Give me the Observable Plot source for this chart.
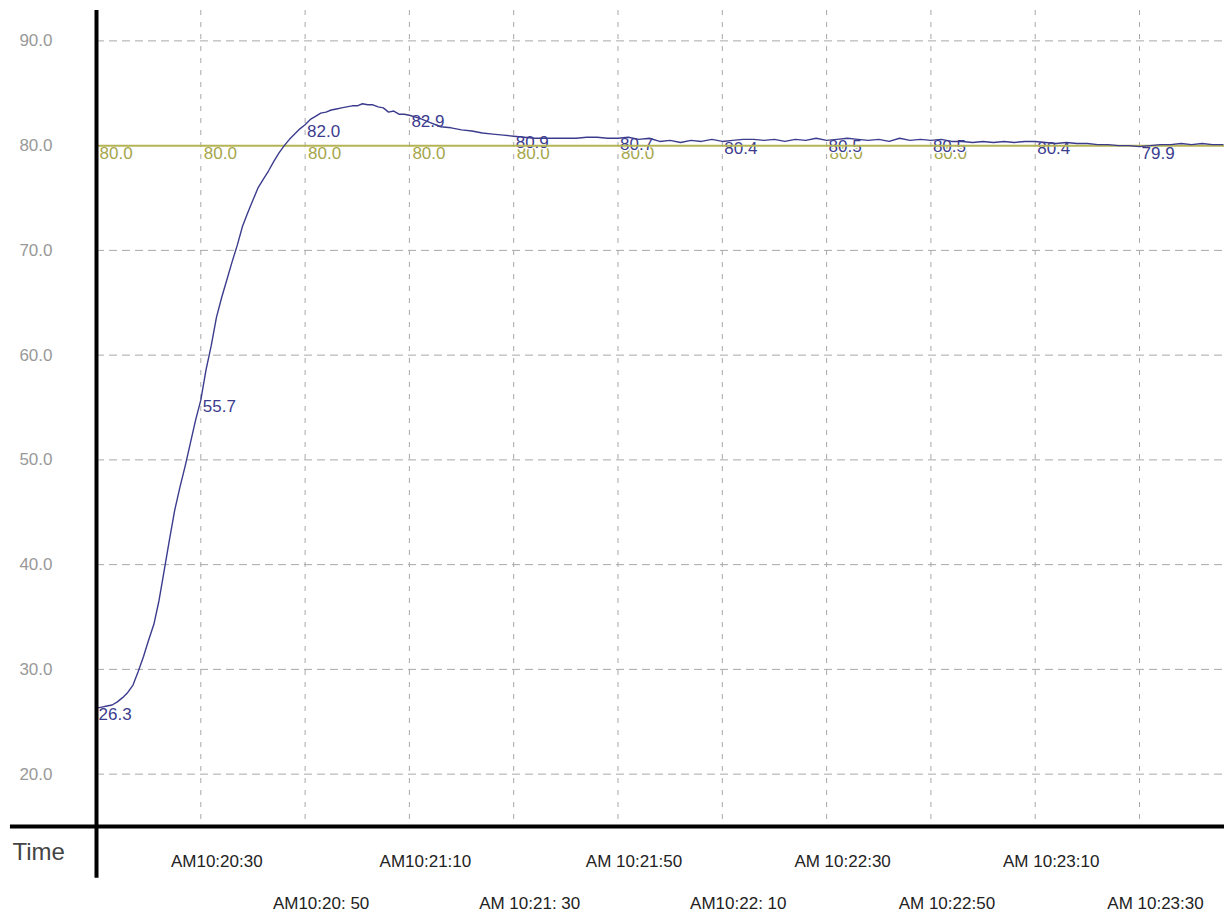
<!DOCTYPE html>
<html>
<head>
<meta charset="utf-8">
<script src="https://cdn.jsdelivr.net/npm/d3@7"></script>
<script src="https://cdn.jsdelivr.net/npm/@observablehq/plot@0.6"></script>
<style>
  body { margin: 0; background: #fff; }
  #chart svg { display: block; }
</style>
</head>
<body>
<div id="chart"></div>
<script>
// seconds elapsed since AM 10:20:10
const seconds = [
  0,1,2,3,4,5,6,7,8,9,10,11,12,13,14,15,16,17,18,19,20,21,22,23,24,25,26,27,28,29,
  30,31,32,33,34,35,36,37,38,39,40,41,42,43,44,45,46,47,48,49,50,51,52,53,54,55,56,57,58,59,
  60,62,64,66,68,70,72,74,76,78,80,82,84,86,88,90,92,94,96,98,100,102,104,106,108,110,112,114,116,118,
  120,122,124,126,128,130,132,134,136,138,140,142,144,146,148,150,152,154,156,158,160,162,164,166,168,170,172,174,176,178,
  180,182,184,186,188,190,192,194,196,198,200,202,204,206,208,210,212,214,216
];
// process value (blue curve)
const pv = [
  26.3,26.4,26.5,26.6,26.9,27.3,27.8,28.5,29.8,31.2,32.8,34.3,36.6,39.5,42.4,45.2,47.4,49.4,51.6,53.8,
  55.7,58.6,60.9,63.6,65.5,67.2,68.9,70.5,72.3,73.6,74.8,76.0,76.8,77.6,78.5,79.3,80.0,80.6,81.1,81.6,
  82.0,82.5,82.8,83.1,83.2,83.4,83.5,83.6,83.7,83.8,83.8,84.0,83.9,83.9,83.7,83.6,83.2,83.3,83.0,83.0,
  82.9,82.6,82.2,81.8,81.7,81.5,81.4,81.2,81.1,81.0,80.9,80.8,80.7,80.7,80.7,80.7,80.7,80.8,80.8,80.7,
  80.7,80.8,80.6,80.7,80.4,80.5,80.3,80.5,80.4,80.6,
  80.4,80.5,80.6,80.6,80.5,80.6,80.4,80.6,80.5,80.7,80.5,80.6,80.7,80.6,80.5,80.6,80.4,80.7,80.5,80.6,
  80.5,80.6,80.4,80.4,80.3,80.4,80.3,80.4,80.3,80.4,
  80.4,80.3,80.2,80.3,80.2,80.2,80.1,80.1,80.0,80.0,79.9,80.0,80.1,80.1,80.2,80.1,80.2,80.1,80.1
];
const setpoint = 80.0;

// labelled process values every 20 s
const labelSeconds = [0,20,40,60,80,100,120,140,160,180,200];
const pvLabels = [26.3,55.7,82.0,82.9,80.9,80.7,80.4,80.5,80.5,80.4,79.9];
// setpoint labels that remain visible in the picture
const spLabelSeconds = [0,20,40,60,80,100,140,160];
const spLabels = [80.0,80.0,80.0,80.0,80.0,80.0,80.0,80.0];

// x tick labels (two staggered rows)
const tickSeconds = [20,40,60,80,100,120,140,160,180,200];
const tickLabels = ["AM10:20:30","AM10:20: 50","AM10:21:10","AM 10:21: 30","AM 10:21:50",
                    "AM10:22: 10","AM 10:22:30","AM 10:22:50","AM 10:23:10","AM 10:23:30"];
const yTicks = [20,30,40,50,60,70,80,90];

const xDomain = [0, 216.3];
const yDomain = [15, 92.9];

const curve = seconds.map((s, i) => ({s, v: pv[i]}));
const pvLab = labelSeconds.map((s, i) => ({s, v: pvLabels[i]}));
const spLab = spLabelSeconds.map((s, i) => ({s, v: spLabels[i]}));
const row1 = tickSeconds.filter((s, i) => i % 2 === 0);
const row2 = tickSeconds.filter((s, i) => i % 2 === 1);
const fmtTick = s => tickLabels[tickSeconds.indexOf(s)];

const font = "'Liberation Sans', Arial, sans-serif";
const blue = "#3c3c8e";
const olive = "#b4b455";
const oliveText = "#a6a64c";
const grid = "#a8a8a8";

const plot = Plot.plot({
  width: 1224,
  height: 918,
  marginLeft: 96,
  marginRight: 0,
  marginTop: 10,
  marginBottom: 92,
  style: {fontFamily: font, background: "#fff"},
  x: {domain: xDomain, axis: null},
  y: {domain: yDomain, axis: null},
  marks: [
    Plot.ruleY(yTicks.filter(d => d !== setpoint), {stroke: grid, strokeDasharray: "8,5", strokeWidth: 1}),
    Plot.ruleX(tickSeconds, {stroke: grid, strokeDasharray: "5,7", strokeWidth: 1}),
    Plot.text(spLab, {x: "s", y: "v", text: d => d.v.toFixed(1), fill: oliveText, fontSize: 17,
      textAnchor: "start", lineAnchor: "top", dx: 3, dy: 1}),
    Plot.text(pvLab, {x: "s", y: "v", text: d => d.v.toFixed(1), fill: blue, fontSize: 17,
      stroke: "white", strokeWidth: 3, paintOrder: "stroke",
      textAnchor: "start", lineAnchor: "top", dx: 2, dy: 0}),
    Plot.ruleY([setpoint], {stroke: olive, strokeWidth: 2}),
    Plot.line(curve, {x: "s", y: "v", stroke: blue, strokeWidth: 1.4}),
    // axis lines
    Plot.ruleX([0], {y1: 10.06, y2: yDomain[1], stroke: "#000", strokeWidth: 4}),
    Plot.ruleY([yDomain[0]], {x1: -16.5, x2: xDomain[1], stroke: "#000", strokeWidth: 4}),
    // y axis labels
    Plot.axisY(yTicks, {tickFormat: d => d.toFixed(1), tickSize: 0, tickPadding: 44, label: null,
      fontSize: 17, fill: "#999", stroke: "none"}),
    // x axis labels, row 1 and row 2
    Plot.axisX(row1, {tickFormat: fmtTick, tickSize: 0, tickPadding: 28, label: null,
      dx: 16, fontSize: 17, fill: "#222", stroke: "none"}),
    Plot.axisX(row2, {tickFormat: fmtTick, tickSize: 0, tickPadding: 70, label: null,
      dx: 16, fontSize: 17, fill: "#222", stroke: "none"}),
    Plot.text(["Time"], {frameAnchor: "bottom-left", text: d => d, dx: -84, dy: 33,
      textAnchor: "start", fontSize: 24, fill: "#444"})
  ]
});
document.getElementById("chart").appendChild(plot);
</script>
</body>
</html>
